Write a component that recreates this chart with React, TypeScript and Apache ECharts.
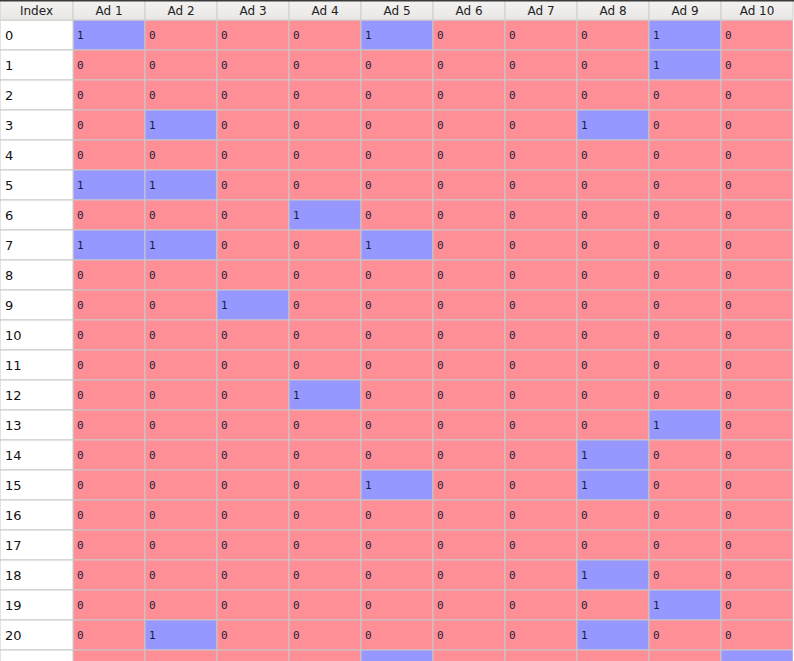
import { useEffect, useRef } from "react";
import * as echarts from "echarts";

const columns = ["Ad 1", "Ad 2", "Ad 3", "Ad 4", "Ad 5", "Ad 6", "Ad 7", "Ad 8", "Ad 9", "Ad 10"];
const rowLabels = ["0", "1", "2", "3", "4", "5", "6", "7", "8", "9", "10", "11", "12", "13", "14", "15", "16", "17", "18", "19", "20", ""];
const clicks = [
  [1, 0, 0, 0, 1, 0, 0, 0, 1, 0],
  [0, 0, 0, 0, 0, 0, 0, 0, 1, 0],
  [0, 0, 0, 0, 0, 0, 0, 0, 0, 0],
  [0, 1, 0, 0, 0, 0, 0, 1, 0, 0],
  [0, 0, 0, 0, 0, 0, 0, 0, 0, 0],
  [1, 1, 0, 0, 0, 0, 0, 0, 0, 0],
  [0, 0, 0, 1, 0, 0, 0, 0, 0, 0],
  [1, 1, 0, 0, 1, 0, 0, 0, 0, 0],
  [0, 0, 0, 0, 0, 0, 0, 0, 0, 0],
  [0, 0, 1, 0, 0, 0, 0, 0, 0, 0],
  [0, 0, 0, 0, 0, 0, 0, 0, 0, 0],
  [0, 0, 0, 0, 0, 0, 0, 0, 0, 0],
  [0, 0, 0, 1, 0, 0, 0, 0, 0, 0],
  [0, 0, 0, 0, 0, 0, 0, 0, 1, 0],
  [0, 0, 0, 0, 0, 0, 0, 1, 0, 0],
  [0, 0, 0, 0, 1, 0, 0, 1, 0, 0],
  [0, 0, 0, 0, 0, 0, 0, 0, 0, 0],
  [0, 0, 0, 0, 0, 0, 0, 0, 0, 0],
  [0, 0, 0, 0, 0, 0, 0, 1, 0, 0],
  [0, 0, 0, 0, 0, 0, 0, 0, 1, 0],
  [0, 1, 0, 0, 0, 0, 0, 1, 0, 0],
  [0, 0, 0, 0, 1, 0, 0, 0, 0, 1],
];

const RED = "#ff8f96";
const BLUE = "#9698ff";
const LINE = "#c8c8c8";
const LEFT = 73;
const TOP = 20;
const ROW_H = 30;
const VIEW_H = 641;

export default function App() {
  const ref = useRef<HTMLDivElement>(null);

  useEffect(() => {
    document.body.style.margin = "0";
    if (!ref.current) return;
    const chart = echarts.init(ref.current, null, { renderer: "svg" });

    const cells: number[][] = [];
    clicks.forEach((row, r) => row.forEach((v, c) => cells.push([c, r, v])));

    const option: echarts.EChartsOption = {
      animation: false,
      backgroundColor: "#ffffff",
      grid: { left: LEFT, top: TOP, width: 720, height: VIEW_H },
      xAxis: {
        type: "category",
        data: columns,
        position: "top",
        axisLine: { show: false },
        axisTick: { show: false },
        axisLabel: { show: false },
      },
      yAxis: {
        type: "value",
        min: 0,
        max: VIEW_H / ROW_H,
        inverse: true,
        show: false,
      },
      series: [
        {
          type: "custom",
          clip: true,
          data: cells,
          renderItem: (params: any, api: any) => {
            const top = api.coord([api.value(0), api.value(1)]);
            const bottom = api.coord([api.value(0), api.value(1) + 1]);
            const w = api.size([1, 0])[0];
            const x0 = top[0] - w / 2;
            const v = api.value(2);
            return {
              type: "group",
              children: [
                {
                  type: "rect",
                  shape: { x: x0, y: top[1], width: w, height: bottom[1] - top[1] },
                  style: { fill: v ? BLUE : RED, stroke: LINE, lineWidth: 1 },
                },
                {
                  type: "text",
                  style: {
                    x: x0 + 4,
                    y: (top[1] + bottom[1]) / 2,
                    text: String(v),
                    fill: "#1b1b3a",
                    font: "11px 'DejaVu Sans Mono', monospace",
                    verticalAlign: "middle",
                  },
                },
              ],
            };
          },
        },
        {
          type: "custom",
          clip: false,
          data: rowLabels.map((_, r) => [0, r]),
          renderItem: (params: any, api: any) => {
            const r = api.value(1);
            const top = api.coord([0, r]);
            const bottom = api.coord([0, r + 1]);
            return {
              type: "group",
              children: [
                {
                  type: "rect",
                  shape: { x: 0, y: top[1], width: LEFT, height: bottom[1] - top[1] },
                  style: { fill: "#ffffff", stroke: LINE, lineWidth: 1 },
                },
                {
                  type: "text",
                  style: {
                    x: 5,
                    y: (top[1] + bottom[1]) / 2,
                    text: rowLabels[r],
                    fill: "#111111",
                    font: "13px 'DejaVu Sans', sans-serif",
                    verticalAlign: "middle",
                  },
                },
              ],
            };
          },
        },
        {
          type: "custom",
          clip: false,
          data: ["Index", ...columns].map((_, i) => [i - 1, 0]),
          renderItem: (params: any, api: any) => {
            const i = api.value(0);
            let x0 = 0;
            let w = LEFT;
            if (i >= 0) {
              const p = api.coord([i, 0]);
              w = api.size([1, 0])[0];
              x0 = p[0] - w / 2;
            }
            const label = i < 0 ? "Index" : columns[i];
            return {
              type: "group",
              children: [
                {
                  type: "rect",
                  shape: { x: x0, y: 0, width: w, height: TOP },
                  style: {
                    fill: new echarts.graphic.LinearGradient(0, 0, 0, 1, [
                      { offset: 0, color: "#f4f3f2" },
                      { offset: 1, color: "#e9e7e5" },
                    ]),
                    stroke: "#d0cecb",
                    lineWidth: 1,
                  },
                },
                {
                  type: "text",
                  style: {
                    x: x0 + w / 2,
                    y: TOP / 2 + 1,
                    text: label,
                    fill: "#222222",
                    font: "12px 'DejaVu Sans', sans-serif",
                    align: "center",
                    verticalAlign: "middle",
                  },
                },
              ],
            };
          },
        },
      ],
      graphic: [
        {
          type: "rect",
          shape: { x: 0, y: 0, width: 794, height: 1.5 },
          style: { fill: "#3a3a3a" },
          z: 100,
        },
      ],
    };

    chart.setOption(option);
    return () => chart.dispose();
  }, []);

  return <div ref={ref} style={{ width: 794, height: 661 }} />;
}
